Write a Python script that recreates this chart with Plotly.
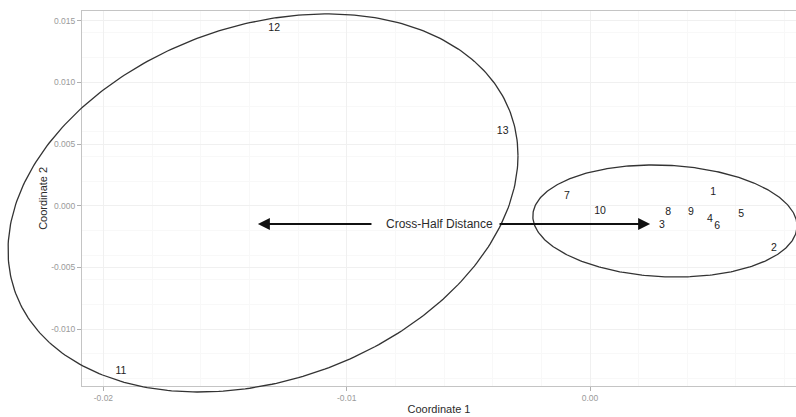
import numpy as np
import plotly.graph_objects as go

# Sample positions on the first two coordinates
sample_ids = ["1", "2", "3", "4", "5", "6", "7", "8", "9", "10", "11", "12", "13"]
coord1 = [0.00506, 0.00756, 0.00296, 0.00493, 0.00621, 0.00523, -0.00095,
          0.00321, 0.00415, 0.00041, -0.01928, -0.01298, -0.00359]
coord2 = [0.00111, -0.00346, -0.00156, -0.00107, -0.00067, -0.00165, 0.00079,
          -0.00051, -0.00051, -0.00043, -0.01340, 0.01438, 0.00605]

# Group ellipses: centre, radius along each coordinate, phase offset (degrees)
ellipse_cx = [-0.01344, 0.00308]
ellipse_cy = [0.00022, -0.00124]
ellipse_rx = [0.01048, 0.00543]
ellipse_ry = [0.01532, 0.00454]
ellipse_phase = [75.5, 95.0]

# Distance annotation between the two groups
label_text = "Cross-Half Distance"
label_x = -0.0062
label_y = -0.00148
arrow_left = (-0.00892, -0.01365)   # (tail, tip)
arrow_right = (-0.00378, 0.00247)   # (tail, tip)

# Axis ranges and ticks
x_range = [-0.02088, 0.008467]
y_range = [-0.014587, 0.015778]
x_ticks = [-0.02, -0.01, 0.00]
x_ticktext = ["-0.02", "-0.01", "0.00"]
y_ticks = [-0.010, -0.005, 0.000, 0.005, 0.010, 0.015]
y_ticktext = ["-0.010", "-0.005", "0.000", "0.005", "0.010", "0.015"]

W, H = 796, 417
x_dom = [82 / W, 1.0]
y_dom = [31.3 / H, 406 / H]

# Full-canvas axes sharing the same data scale, so ellipses can run past the panel
kx = (x_range[1] - x_range[0]) / (x_dom[1] - x_dom[0])
ky = (y_range[1] - y_range[0]) / (y_dom[1] - y_dom[0])
x2_range = [x_range[0] - x_dom[0] * kx, x_range[1] + (1 - x_dom[1]) * kx]
y2_range = [y_range[0] - y_dom[0] * ky, y_range[1] + (1 - y_dom[1]) * ky]

FONT = "Liberation Sans, Arial, Helvetica, sans-serif"

fig = go.Figure()

fig.add_trace(go.Scatter(
    x=coord1, y=coord2, text=sample_ids, mode="text",
    textposition="middle center",
    textfont=dict(family=FONT, size=10.5, color="#222222"),
    cliponaxis=False, showlegend=False, hoverinfo="text",
    xaxis="x", yaxis="y",
))

t = np.linspace(0, 2 * np.pi, 361)
for cx, cy, rx, ry, ph in zip(ellipse_cx, ellipse_cy, ellipse_rx, ellipse_ry, ellipse_phase):
    d = np.deg2rad(ph)
    fig.add_trace(go.Scatter(
        x=cx + rx * np.cos(t), y=cy + ry * np.cos(t - d),
        mode="lines", line=dict(color="#333333", width=1.3),
        showlegend=False, hoverinfo="skip",
        xaxis="x2", yaxis="y2",
    ))

for tail, tip in (arrow_left, arrow_right):
    fig.add_annotation(
        x=tip, y=label_y, ax=tail, ay=label_y,
        xref="x", yref="y", axref="x", ayref="y",
        text="", showarrow=True, arrowhead=2, arrowsize=1.2,
        arrowwidth=2, arrowcolor="#111111", standoff=0, startstandoff=0,
    )

fig.add_annotation(
    x=label_x, y=label_y, xref="x", yref="y", text=label_text,
    showarrow=False, font=dict(family=FONT, size=12, color="#2b2b2b"),
)

axis_common = dict(
    showgrid=True, gridcolor="#f0f0f0", gridwidth=1,
    zeroline=False, ticks="outside", ticklen=4, tickcolor="#b0b0b0",
    tickfont=dict(family=FONT, size=8.5, color="#9a9a9a"),
    showline=True, linecolor="#c4c4c4", linewidth=1,
    minor=dict(showgrid=True, gridcolor="#f8f8f8", gridwidth=1),
)

fig.update_layout(
    width=W, height=H,
    margin=dict(l=0, r=0, t=0, b=0),
    paper_bgcolor="white", plot_bgcolor="rgba(0,0,0,0)",
    font=dict(family=FONT),
    xaxis=dict(
        domain=x_dom, range=x_range, anchor="y",
        tickvals=x_ticks, ticktext=x_ticktext, mirror=True,
        title=dict(text="Coordinate 1", standoff=3,
                   font=dict(family=FONT, size=11, color="#2b2b2b")),
        **axis_common,
    ),
    yaxis=dict(
        domain=y_dom, range=y_range, anchor="x",
        tickvals=y_ticks, ticktext=y_ticktext, mirror=False,
        title=dict(text="Coordinate 2", standoff=1,
                   font=dict(family=FONT, size=11, color="#2b2b2b")),
        **axis_common,
    ),
    xaxis2=dict(domain=[0, 1], range=x2_range, anchor="y2", visible=False,
                showgrid=False, zeroline=False),
    yaxis2=dict(domain=[0, 1], range=y2_range, anchor="x2", visible=False,
                showgrid=False, zeroline=False),
)

fig.write_html("out.html")
